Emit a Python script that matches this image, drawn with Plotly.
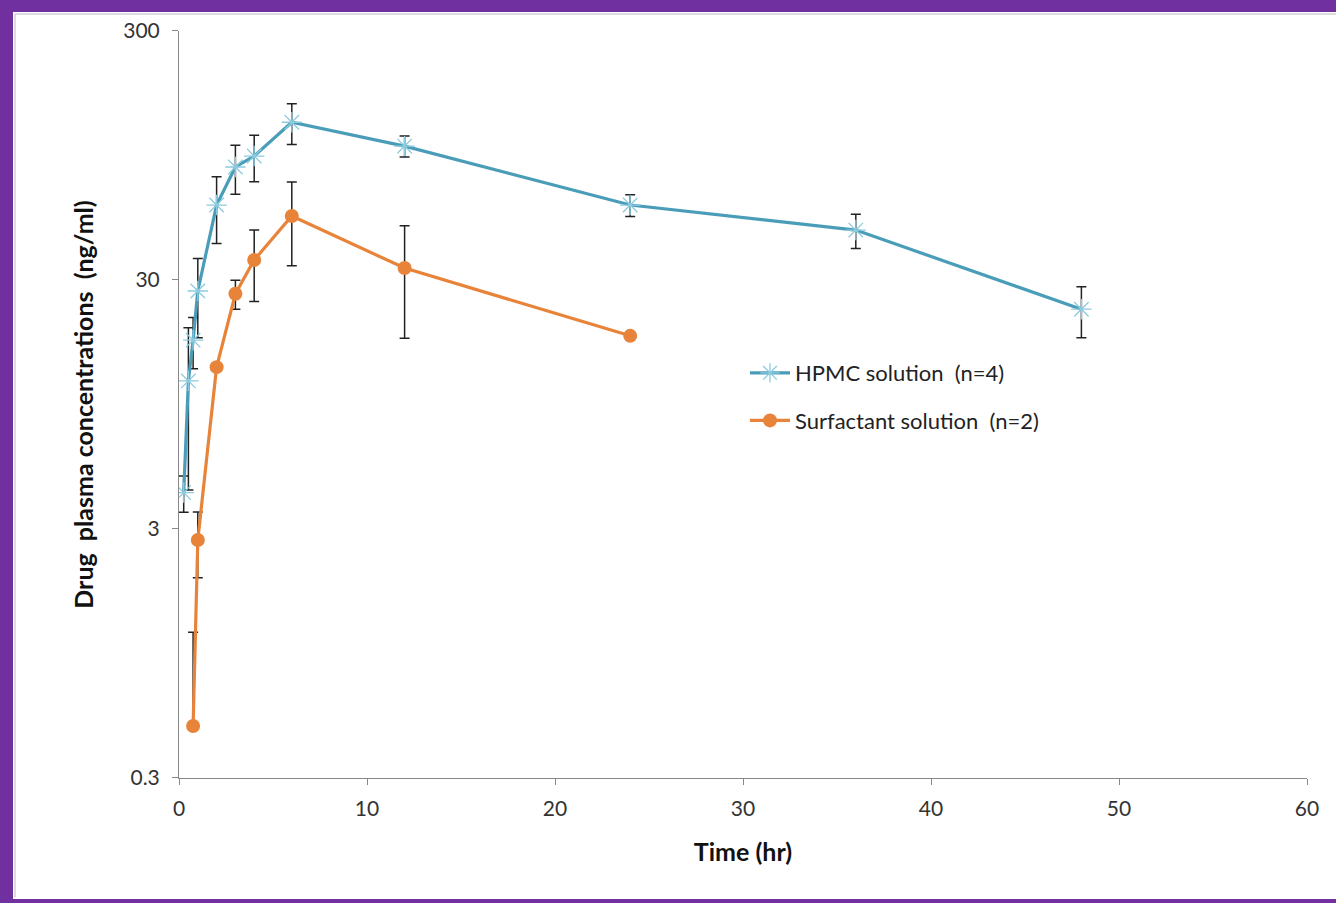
import plotly.graph_objects as go

# HPMC solution (n=4)
hpmc_time = [0.25, 0.5, 0.75, 1, 2, 3, 4, 6, 12, 24, 36, 48]
hpmc_conc = [4.2, 11.8, 17.2, 27.1, 60, 85.3, 94.4, 129, 103.5, 60, 47.6, 22.9]
hpmc_err = [0.7, 7.5, 4.0, 9.5, 18, 19, 20, 24, 10, 6, 7.5, 5.3]

# Surfactant solution (n=2)
surf_time = [0.75, 1, 2, 3, 4, 6, 12, 24]
surf_conc = [0.485, 2.71, 13.4, 26.4, 36.1, 54.2, 33.5, 17.9]
surf_err_plus = [0.67, 0.8, 0.0, 3.5, 11.5, 20, 16, 0.0]
surf_err_minus = [0.0, 0.8, 0.0, 3.5, 11.5, 20, 16, 0.0]

x_ticks = [0, 10, 20, 30, 40, 50, 60]
y_ticks = [0.3, 3, 30, 300]
y_tick_text = ["0.3", "3", "30", "300"]

FONT = "Lato"
teal = "#4A9DB8"
orange = "#E8843A"

fig = go.Figure()
fig.add_trace(go.Scatter(
    x=hpmc_time, y=hpmc_conc, mode="lines+markers", name="HPMC solution  (n=4)",
    legendgroup="a",
    line=dict(color=teal, width=3.2),
    marker=dict(symbol="asterisk-open", size=17, color="#8CCBDF", line=dict(width=1.3, color="#8CCBDF")),
    error_y=dict(type="data", array=hpmc_err, color="#222222", thickness=1.5, width=5),
))
fig.add_trace(go.Scatter(
    x=surf_time, y=surf_conc, mode="lines+markers", name="Surfactant solution  (n=2)",
    legendgroup="b",
    line=dict(color=orange, width=3.2),
    marker=dict(symbol="circle", size=14, color=orange),
    error_y=dict(type="data", array=surf_err_plus, arrayminus=surf_err_minus,
                 color="#222222", thickness=1.5, width=5),
))

L, R, T, B = 179, 29, 31, 125
W, H = 1336, 903
pw, ph = W - L - R, H - T - B

def px(x):
    return (x - L) / pw

def py(y):
    return (H - B - y) / ph

purple = "#7030A0"
shapes = [
    dict(type="rect", xref="paper", yref="paper", x0=px(0), x1=px(W), y0=py(12), y1=py(0),
         fillcolor=purple, line=dict(width=0), layer="below"),
    dict(type="rect", xref="paper", yref="paper", x0=px(0), x1=px(13), y0=py(H), y1=py(0),
         fillcolor=purple, line=dict(width=0), layer="below"),
    dict(type="rect", xref="paper", yref="paper", x0=px(0), x1=px(W), y0=py(H), y1=py(899),
         fillcolor=purple, line=dict(width=0), layer="below"),
    dict(type="line", xref="paper", yref="paper", x0=px(15), x1=px(W), y0=py(14), y1=py(14),
         line=dict(color="#BBBBBB", width=1), layer="below"),
    dict(type="line", xref="paper", yref="paper", x0=px(15), x1=px(15), y0=py(14), y1=py(897),
         line=dict(color="#BBBBBB", width=1), layer="below"),
]

fig.update_layout(
    width=W, height=H,
    margin=dict(l=L, r=R, t=T, b=B),
    paper_bgcolor="white", plot_bgcolor="white",
    font=dict(family=FONT, size=21, color="#333333"),
    shapes=shapes,
    showlegend=True,
    legend=dict(x=px(745), y=py(352), xanchor="left", yanchor="top",
                font=dict(family=FONT, size=22, color="#222222"),
                bgcolor="rgba(0,0,0,0)", itemwidth=40, tracegroupgap=16),
    xaxis=dict(range=[0, 60], tickvals=x_ticks, showgrid=False, zeroline=False,
               showline=True, linecolor="#888888", linewidth=1,
               ticks="outside", ticklen=6, tickcolor="#888888", ticklabelstandoff=6,
               title=dict(text="<b>Time (hr)</b>", font=dict(family=FONT, size=25, color="#111111"), standoff=24)),
    yaxis=dict(type="log", range=[-0.5229, 2.4771], tickvals=y_ticks, ticktext=y_tick_text,
               showgrid=False, zeroline=False,
               showline=True, linecolor="#888888", linewidth=1,
               ticks="outside", ticklen=6, tickcolor="#888888", ticklabelstandoff=8,
               title=dict(text="<b>Drug  plasma concentrations  (ng/ml)</b>", font=dict(family=FONT, size=25, color="#111111"), standoff=22)),
)

fig.write_html("out.html", config={"displayModeBar": False},
               post_script="document.body.style.margin='0';document.body.style.overflow='hidden';")
